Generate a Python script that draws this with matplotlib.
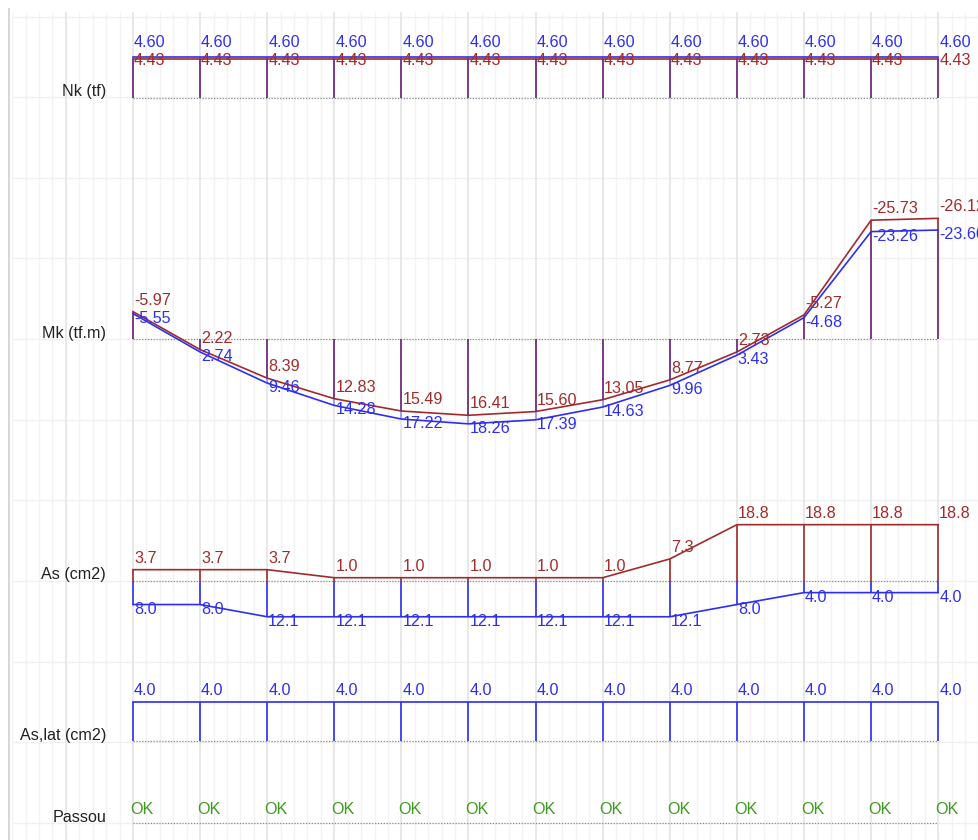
"""
Diagrama de esforcos e armaduras ao longo da viga (13 secoes).
"""
import matplotlib.pyplot as plt
import numpy as np

plt.rcParams['font.family'] = ['Liberation Sans', 'DejaVu Sans']

# secoes ao longo do elemento
stations = np.arange(13)

# Nk (tf)
nk_blue = [4.60, 4.60, 4.60, 4.60, 4.60, 4.60, 4.60, 4.60, 4.60, 4.60, 4.60, 4.60, 4.60]
nk_red = [4.43, 4.43, 4.43, 4.43, 4.43, 4.43, 4.43, 4.43, 4.43, 4.43, 4.43, 4.43, 4.43]

# Mk (tf.m)
mk_red = [-5.97, 2.22, 8.39, 12.83, 15.49, 16.41, 15.60, 13.05, 8.77, 2.73, -5.27, -25.73, -26.12]
mk_blue = [-5.55, 2.74, 9.46, 14.28, 17.22, 18.26, 17.39, 14.63, 9.96, 3.43, -4.68, -23.26, -23.60]

# As (cm2): superior / inferior
as_top = [3.7, 3.7, 3.7, 1.0, 1.0, 1.0, 1.0, 1.0, 7.3, 18.8, 18.8, 18.8, 18.8]
as_bot = [8.0, 8.0, 12.1, 12.1, 12.1, 12.1, 12.1, 12.1, 12.1, 8.0, 4.0, 4.0, 4.0]

# As,lat (cm2)
as_lat = [4.0, 4.0, 4.0, 4.0, 4.0, 4.0, 4.0, 4.0, 4.0, 4.0, 4.0, 4.0, 4.0]

# verificacao
passou = ['OK', 'OK', 'OK', 'OK', 'OK', 'OK', 'OK', 'OK', 'OK', 'OK', 'OK', 'OK', 'OK']

RED = '#a12b2b'
BLUE = '#2e2ef0'
GREEN = '#3d9a1f'
FS = 11.6
W, H = 979, 840
X0, DX = 133, 67.1   # primeira secao e espacamento, em px

fig = plt.figure(figsize=(W / 100, H / 100), dpi=100)
xlim = (-X0 / DX, (W - X0) / DX)

# fundo com grade
bg = fig.add_axes([0, 0, 1, 1])
bg.set_xlim(xlim)
bg.set_ylim(H, 0)
bg.axis('off')
for i in range(-2, 14):
    bg.vlines(i, 12, H, color='#e6e6e6', lw=1.3, zorder=1)
    for k in range(1, 5):
        bg.vlines(i + k / 5, 12, H, color='#f3f3f3', lw=1.0, zorder=0)
for yy in 16.5 + 80.65 * np.arange(11):
    bg.hlines(yy, (13 - X0) / DX, xlim[1], color='#f0f0f0', lw=1.0, zorder=0)
bg.vlines((9 - X0) / DX, 8, H, color='#d0d0d0', lw=1.2)


def row_axes(base, scale, down=False):
    """eixo transparente com linha de base em 'base' px e 'scale' px por unidade"""
    ax = fig.add_axes([0, 0, 1, 1])
    ax.set_xlim(xlim)
    lo, hi = -(H - base) / scale, base / scale
    if down:
        ax.set_ylim(-lo, -hi)
    else:
        ax.set_ylim(lo, hi)
    ax.axis('off')
    ax.patch.set_visible(False)
    ax.plot([stations[0], stations[-1]], [0, 0], color='#8c8c8c', lw=0.9,
            ls=(0, (1, 1.3)), zorder=1)
    return ax


def row_name(ax, name):
    ax.annotate(name, (stations[0], 0), xytext=(-27, 1.5), textcoords='offset pixels',
                ha='right', va='baseline', fontsize=FS, color='#222222')


def values(ax, ys, texts, color, dy, dx=1):
    for x, y, t in zip(stations, ys, texts):
        ax.annotate(t, (x, y), xytext=(dx, dy), textcoords='offset pixels',
                    ha='left', va='baseline', fontsize=FS, color=color, zorder=5)


# Nk
ax = row_axes(97.5, 8.72)
ax.vlines(stations, 0, nk_red, color=RED, lw=1.2, zorder=2)
ax.vlines(stations, 0, nk_blue, color=BLUE, lw=1.2, alpha=0.45, zorder=3)
ax.plot(stations, nk_red, color=RED, lw=1.2, zorder=2)
ax.plot(stations, nk_blue, color=BLUE, lw=1.2, zorder=3)
values(ax, nk_blue, [f'{v:.2f}' for v in nk_blue], BLUE, 10)
values(ax, nk_red, [f'{v:.2f}' for v in nk_red], RED, -6)
row_name(ax, 'Nk (tf)')

# Mk (positivo para baixo)
ax = row_axes(339.3, 4.63, down=True)
ax.vlines(stations, 0, mk_red, color=RED, lw=1.2, zorder=2)
ax.vlines(stations, 0, mk_blue, color=BLUE, lw=1.2, alpha=0.45, zorder=3)
ax.plot(stations, mk_red, color=RED, lw=1.2, zorder=2)
ax.plot(stations, mk_blue, color=BLUE, lw=1.2, zorder=3)
values(ax, mk_red, [f'{v:.2f}' for v in mk_red], RED, 7)
values(ax, mk_blue, [f'{v:.2f}' for v in mk_blue], BLUE, -9)
row_name(ax, 'Mk (tf.m)')

# As: superior para cima, inferior para baixo
ax = row_axes(580.7, 2.98)
as_bot_neg = [-v for v in as_bot]
ax.vlines(stations, 0, as_top, color=RED, lw=1.2, zorder=2)
ax.plot(stations, as_top, color=RED, lw=1.2, zorder=2)
ax.vlines(stations, 0, as_bot_neg, color=BLUE, lw=1.2, zorder=2)
ax.plot(stations, as_bot_neg, color=BLUE, lw=1.2, zorder=2)
values(ax, as_top, [f'{v:.1f}' for v in as_top], RED, 6.5)
values(ax, as_bot_neg, [f'{v:.1f}' for v in as_bot], BLUE, -9.5)
row_name(ax, 'As (cm2)')

# As,lat
ax = row_axes(741.3, 9.9)
ax.vlines(stations, 0, as_lat, color=BLUE, lw=1.2, zorder=2)
ax.plot(stations, as_lat, color=BLUE, lw=1.2, zorder=2)
values(ax, as_lat, [f'{v:.1f}' for v in as_lat], BLUE, 6.7)
row_name(ax, 'As,lat (cm2)')

# Passou
ax = row_axes(823, 1.0)
values(ax, np.zeros(len(stations)), passou, GREEN, 8.5, dx=-3)
row_name(ax, 'Passou')

fig.savefig('out.png', dpi=100)
